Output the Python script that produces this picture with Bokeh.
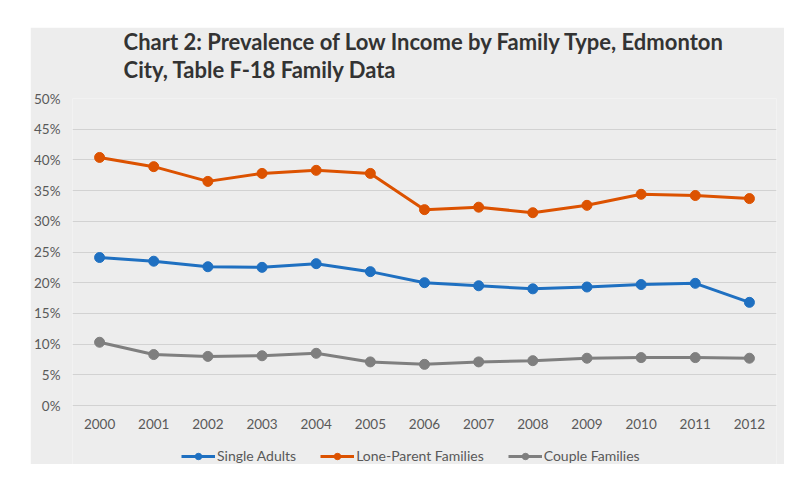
from bokeh.plotting import figure
from bokeh.models import (FactorRange, Range1d, NumeralTickFormatter, Legend,
                          LegendItem, FixedTicker, Title)
from bokeh.embed import file_html
from bokeh.resources import INLINE

years = [str(y) for y in range(2000, 2013)]
single_adults = [0.241, 0.235, 0.226, 0.225, 0.231, 0.218, 0.200, 0.195, 0.190, 0.193, 0.197, 0.199, 0.168]
lone_parent = [0.404, 0.389, 0.365, 0.378, 0.383, 0.378, 0.319, 0.323, 0.314, 0.326, 0.344, 0.342, 0.337]
couple_families = [0.103, 0.083, 0.080, 0.081, 0.085, 0.071, 0.067, 0.071, 0.073, 0.077, 0.078, 0.078, 0.077]
y_tick_values = [0.0, 0.05, 0.10, 0.15, 0.20, 0.25, 0.30, 0.35, 0.40, 0.45, 0.50]

series_names = ["Single Adults", "Lone-Parent Families", "Couple Families"]
series_values = [single_adults, lone_parent, couple_families]
series_colors = ["#1f70c1", "#dc5200", "#7f7f7f"]
title_text = "Chart 2: Prevalence of Low Income by Family Type, Edmonton\nCity, Table F-18 Family Data"

FONT = "Lato"
PANEL = "#ededed"

GRID_H = 307      # pixel height of 0%..50%
BOTTOM_H = 59     # pixel room under 0% for year labels and legend
y_max = 0.5
y_min = -y_max * BOTTOM_H / GRID_H

p = figure(frame_width=704, frame_height=GRID_H + BOTTOM_H, title=None,
           x_range=FactorRange(*years), y_range=Range1d(y_min, y_max),
           output_backend="svg", toolbar_location=None,
           min_border_left=42, min_border_right=8, min_border_top=71, min_border_bottom=0)
p.margin = (27, 0, 0, 30)
p.background_fill_color = PANEL
p.border_fill_color = PANEL
p.outline_line_color = None

# small blank title acting as a gap between the chart title and the plot area
gap = Title(text=" ", text_font=FONT, text_font_size="10px", standoff=3, align="center")
p.add_layout(gap, "above")
main_title = Title(text=title_text, align="center", standoff=-3,
                   text_font=FONT, text_font_size="22px", text_font_style="bold",
                   text_color="#333333", text_line_height=1.02)
p.add_layout(main_title, "above")

p.xgrid.grid_line_color = None
p.ygrid.grid_line_color = "#d2d2d2"
p.ygrid.grid_line_width = 1

p.yaxis.ticker = FixedTicker(ticks=y_tick_values)
p.yaxis.formatter = NumeralTickFormatter(format="0%")
p.xaxis.fixed_location = 0
for ax in (p.xaxis[0], p.yaxis[0]):
    ax.axis_line_color = None
    ax.major_tick_line_color = None
    ax.minor_tick_line_color = None
    ax.major_tick_out = 0
    ax.major_tick_in = 0
    ax.minor_tick_out = 0
    ax.major_label_text_font = FONT
    ax.major_label_text_font_size = "13.5px"
    ax.major_label_text_color = "#595959"
p.yaxis.major_label_standoff = 12
p.xaxis.major_label_standoff = 13

items = []
for name, vals, col in zip(series_names, series_values, series_colors):
    ln = p.line(years, vals, line_color=col, line_width=3)
    sc = p.scatter(years, vals, size=10, fill_color=col, line_color=col)
    items.append(LegendItem(label=name, renderers=[ln, sc]))

legend = Legend(items=items, orientation="horizontal", location=(109, 0),
                label_text_font=FONT, label_text_font_size="14px", label_text_color="#595959",
                glyph_width=34, glyph_height=16, label_height=16, label_standoff=2, spacing=24,
                background_fill_alpha=0, border_line_color=None,
                padding=0, margin=0)
p.add_layout(legend, "center")

open("out.html", "w").write(file_html(p, INLINE))
